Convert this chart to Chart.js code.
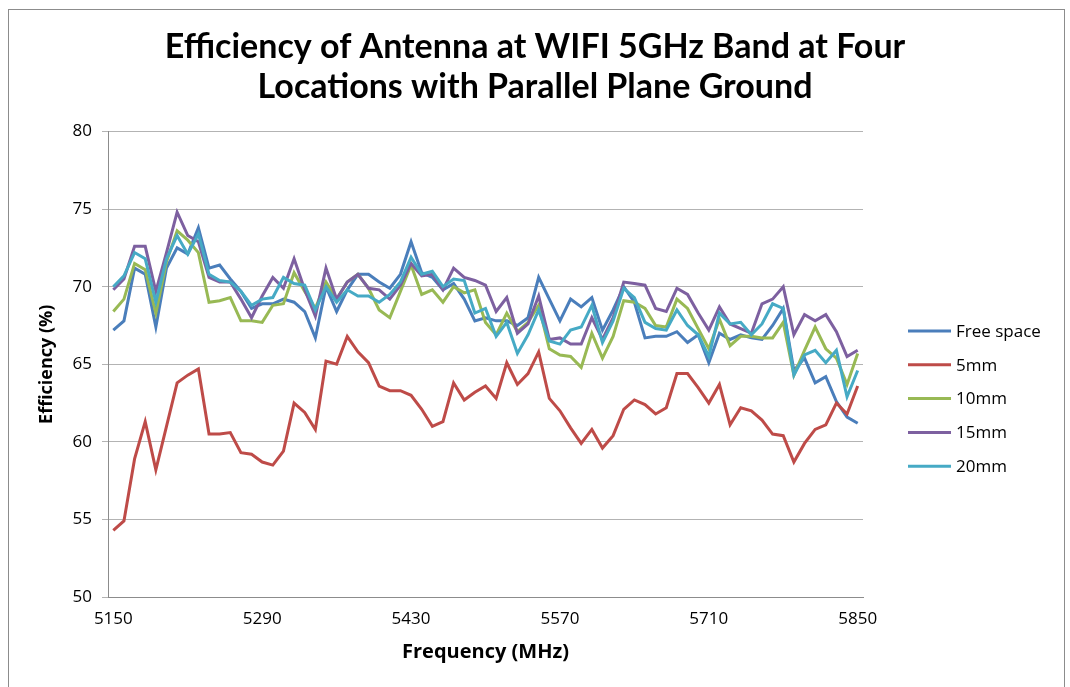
<!DOCTYPE html>
<html>
<head>
<meta charset="utf-8">
<script src="https://cdn.jsdelivr.net/npm/chart.js@4.4.1/dist/chart.umd.min.js"></script>
<style>
    html, body { margin: 0; padding: 0; background: #fff; }
    #wrap { position: relative; width: 1070px; height: 687px; overflow: hidden; background: #fff; }
    #frame { position: absolute; left: 8px; top: 9px; width: 1057px; height: 700px; border: 1px solid #8c8c8c; box-sizing: border-box; }
    #chart { position: absolute; left: 0; top: 0; }
</style>
</head>
<body>
<div id="wrap">
    <div id="frame"></div>
    <canvas id="chart" width="1070" height="687"></canvas>
</div>
<script>
// Tần số (MHz), bước 10 MHz
const frequencies = [
    5150, 5160, 5170, 5180, 5190, 5200, 5210, 5220, 5230, 5240,
    5250, 5260, 5270, 5280, 5290, 5300, 5310, 5320, 5330, 5340,
    5350, 5360, 5370, 5380, 5390, 5400, 5410, 5420, 5430, 5440,
    5450, 5460, 5470, 5480, 5490, 5500, 5510, 5520, 5530, 5540,
    5550, 5560, 5570, 5580, 5590, 5600, 5610, 5620, 5630, 5640,
    5650, 5660, 5670, 5680, 5690, 5700, 5710, 5720, 5730, 5740,
    5750, 5760, 5770, 5780, 5790, 5800, 5810, 5820, 5830, 5840,
    5850
];

const freeSpace = [
    67.2, 67.8, 71.2, 70.8, 67.4, 71.2, 72.5, 72.1, 73.8, 71.2,
    71.4, 70.5, 69.7, 68.6, 68.9, 68.9, 69.2, 69.0, 68.4, 66.7,
    70.0, 68.4, 69.8, 70.8, 70.8, 70.3, 69.9, 70.8, 72.9, 70.9,
    70.6, 69.8, 70.2, 69.2, 67.8, 68.0, 67.8, 67.8, 67.5, 68.0,
    70.6, 69.2, 67.8, 69.2, 68.7, 69.3, 67.2, 68.5, 70.0, 69.0,
    66.7, 66.8, 66.8, 67.1, 66.4, 66.9, 65.1, 67.0, 66.6, 66.9,
    66.7, 66.6, 67.5, 68.6, 64.6, 65.4, 63.8, 64.2, 62.6, 61.6,
    61.2
];

const mm5 = [
    54.3, 54.9, 58.9, 61.3, 58.2, 61.0, 63.8, 64.3, 64.7, 60.5,
    60.5, 60.6, 59.3, 59.2, 58.7, 58.5, 59.4, 62.5, 61.9, 60.8,
    65.2, 65.0, 66.8, 65.8, 65.1, 63.6, 63.3, 63.3, 63.0, 62.1,
    61.0, 61.3, 63.8, 62.7, 63.2, 63.6, 62.8, 65.1, 63.7, 64.4,
    65.8, 62.8, 62.0, 60.9, 59.9, 60.8, 59.6, 60.4, 62.1, 62.7,
    62.4, 61.8, 62.2, 64.4, 64.4, 63.5, 62.5, 63.7, 61.1, 62.2,
    62.0, 61.4, 60.5, 60.4, 58.7, 59.9, 60.8, 61.1, 62.5, 61.8,
    63.6
];

const mm10 = [
    68.4, 69.2, 71.5, 71.1, 68.3, 71.6, 73.6, 73.0, 72.2, 69.0,
    69.1, 69.3, 67.8, 67.8, 67.7, 68.8, 68.9, 70.9, 69.7, 68.6,
    70.3, 69.2, 70.3, 70.8, 69.9, 68.5, 68.0, 69.7, 71.4, 69.5,
    69.8, 69.0, 70.0, 69.6, 69.8, 67.7, 66.9, 68.3, 67.1, 67.7,
    68.8, 66.0, 65.6, 65.5, 64.8, 67.0, 65.4, 66.8, 69.1, 69.0,
    68.6, 67.5, 67.4, 69.2, 68.6, 67.3, 66.0, 67.9, 66.2, 66.8,
    66.8, 66.7, 66.7, 67.7, 64.3, 65.9, 67.4, 66.0, 65.4, 63.7,
    65.7
];

const mm15 = [
    69.8, 70.5, 72.6, 72.6, 69.7, 72.2, 74.8, 73.3, 72.9, 70.6,
    70.3, 70.3, 69.2, 68.0, 69.4, 70.6, 69.9, 71.8, 69.8, 68.1,
    71.2, 69.2, 70.3, 70.8, 69.9, 69.8, 69.2, 70.1, 71.5, 70.7,
    70.8, 69.8, 71.2, 70.6, 70.4, 70.1, 68.4, 69.3, 67.0, 67.6,
    69.4, 66.6, 66.7, 66.3, 66.3, 68.0, 66.6, 68.0, 70.3, 70.2,
    70.1, 68.6, 68.4, 69.9, 69.5, 68.3, 67.2, 68.7, 67.6, 67.3,
    67.0, 68.9, 69.2, 70.0, 66.9, 68.2, 67.8, 68.2, 67.1, 65.5,
    65.9
];

const mm20 = [
    70.0, 70.7, 72.2, 71.8, 69.0, 71.8, 73.3, 72.1, 73.4, 70.8,
    70.4, 70.3, 69.7, 68.8, 69.2, 69.3, 70.6, 70.2, 70.1, 68.5,
    70.0, 69.0, 69.8, 69.4, 69.4, 69.0, 69.5, 70.3, 71.9, 70.8,
    71.0, 70.0, 70.5, 70.4, 68.3, 68.6, 66.8, 67.7, 65.7, 66.9,
    68.5, 66.5, 66.3, 67.2, 67.4, 68.8, 66.4, 67.8, 69.9, 69.3,
    67.7, 67.3, 67.2, 68.5, 67.5, 66.9, 65.5, 68.3, 67.6, 67.7,
    66.9, 67.6, 68.9, 68.6, 64.3, 65.6, 65.9, 65.1, 65.9, 62.9,
    64.6
];

const seriesNames = ['Free space', '5mm', '10mm', '15mm', '20mm'];
const seriesColors = ['#4a7ebb', '#be4b48', '#98b954', '#7d60a0', '#46aac5'];
const seriesValues = [freeSpace, mm5, mm10, mm15, mm20];

const yTicks = [50, 55, 60, 65, 70, 75, 80];

// Chú thích vẽ tay bên phải (kiểu Excel)
const sideLegend = {
    id: 'sideLegend',
    afterDraw(chart) {
        const ctx = chart.ctx;
        ctx.save();
        ctx.font = '17px "Open Sans"';
        ctx.textBaseline = 'middle';
        ctx.textAlign = 'left';
        chart.data.datasets.forEach((ds, i) => {
            const y = 331 + i * 33.8;
            ctx.strokeStyle = ds.borderColor;
            ctx.lineWidth = 3;
            ctx.beginPath();
            ctx.moveTo(908, y);
            ctx.lineTo(951, y);
            ctx.stroke();
            ctx.fillStyle = '#000';
            ctx.fillText(ds.label, 956, y + 1);
        });
        ctx.restore();
    }
};

const ctx = document.getElementById('chart').getContext('2d');
new Chart(ctx, {
    type: 'line',
    data: {
        labels: frequencies,
        datasets: seriesNames.map((name, i) => ({
            label: name,
            data: seriesValues[i],
            borderColor: seriesColors[i],
            backgroundColor: seriesColors[i],
            borderWidth: 3,
            pointRadius: 0,
            tension: 0,
            fill: false,
            yAxisID: 'y',
            order: seriesNames.length - i
        }))
    },
    options: {
        responsive: false,
        animation: false,
        devicePixelRatio: 1,
        layout: {
            padding: { top: 0, right: 0, bottom: 0, left: 0 }
        },
        plugins: {
            legend: { display: false },
            tooltip: { enabled: false },
            title: {
                display: true,
                text: ['Efficiency of Antenna at WIFI 5GHz Band at Four', 'Locations with Parallel Plane Ground'],
                color: '#000',
                font: { family: 'Lato', size: 34, weight: 'bold', lineHeight: 1.17 },
                padding: { top: 27, bottom: 25 }
            }
        },
        scales: {
            x: {
                type: 'category',
                offset: true,
                grid: { display: false, drawTicks: false },
                border: { display: true, color: '#8c8c8c', width: 1 },
                ticks: {
                    autoSkip: false,
                    maxRotation: 0,
                    padding: 12,
                    color: '#000',
                    font: { family: 'Open Sans', size: 17 },
                    callback: function (val, idx) {
                        return idx % 14 === 0 ? this.getLabelForValue(val) : null;
                    }
                },
                title: {
                    display: true,
                    text: 'Frequency (MHz)',
                    color: '#000',
                    font: { family: 'Open Sans', size: 20, weight: 'bold' },
                    padding: { top: 6, bottom: 23 }
                },
                afterFit: scale => { scale.height = 90; }
            },
            y: {
                position: 'left',
                min: 50,
                max: 80,
                afterBuildTicks: scale => { scale.ticks = yTicks.map(v => ({ value: v })); },
                grid: { color: '#b3b3b3', lineWidth: 1, tickLength: 6, drawTicks: true },
                border: { display: true, color: '#8c8c8c', width: 1 },
                ticks: {
                    padding: 10,
                    color: '#000',
                    font: { family: 'Open Sans', size: 17 }
                },
                title: {
                    display: true,
                    text: 'Efficiency (%)',
                    color: '#000',
                    font: { family: 'Open Sans', size: 18, weight: 'bold' },
                    padding: { top: 36, bottom: 0 }
                },
                afterFit: scale => { scale.width = 108; }
            },
            // trục ẩn bên phải, chỉ để chừa chỗ cho chú thích
            yRight: {
                position: 'right',
                min: 50,
                max: 80,
                grid: { display: false, drawTicks: false },
                border: { display: false },
                ticks: { display: false },
                afterFit: scale => { scale.width = 207; }
            }
        }
    },
    plugins: [sideLegend]
});
</script>
</body>
</html>
